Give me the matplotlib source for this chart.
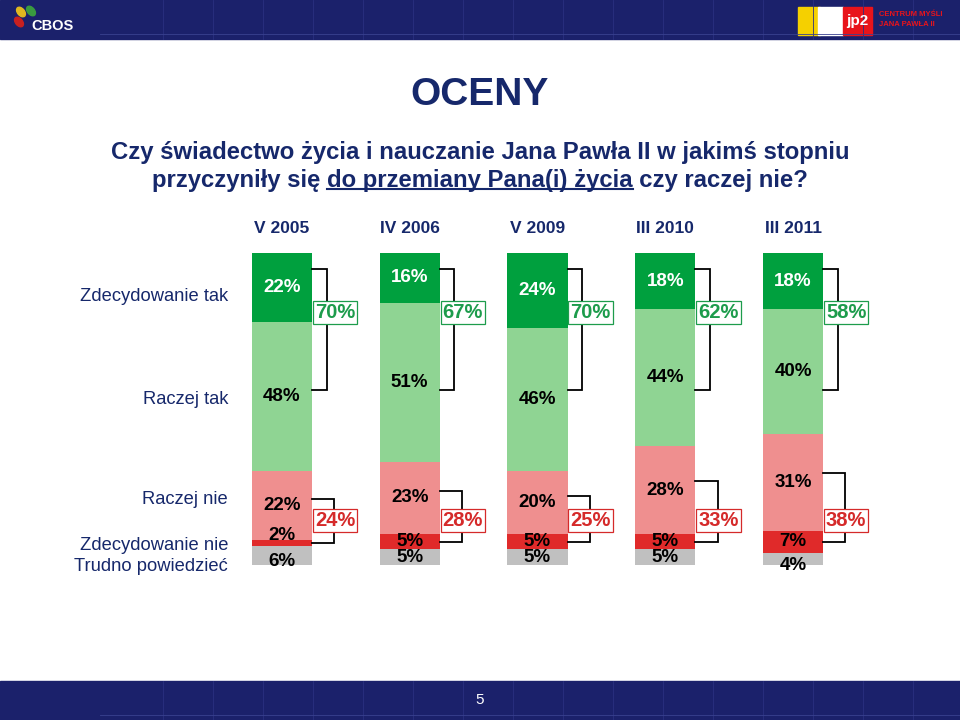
import matplotlib
matplotlib.use("Agg")
import matplotlib.pyplot as plt
from matplotlib.patches import Rectangle, Ellipse
from matplotlib.lines import Line2D

# ---------------- data ----------------
periods = ["V 2005", "IV 2006", "V 2009", "III 2010", "III 2011"]
zdecydowanie_tak = [22, 16, 24, 18, 18]
raczej_tak = [48, 51, 46, 44, 40]
raczej_nie = [22, 23, 20, 28, 31]
zdecydowanie_nie = [2, 5, 5, 5, 7]
trudno = [6, 5, 5, 5, 4]
suma_tak = [70, 67, 70, 62, 58]
suma_nie = [24, 28, 25, 33, 38]
row_labels = ["Zdecydowanie tak", "Raczej tak", "Raczej nie",
              "Zdecydowanie nie", "Trudno powiedzieć"]

# ---------------- style ----------------
plt.rcParams['font.family'] = ['Liberation Sans', 'DejaVu Sans']
NAVY = "#16286b"
BAND = "#1b216b"
C_DG = "#00a03e"
C_LG = "#8fd493"
C_PK = "#ef8f8f"
C_RD = "#e02a2a"
C_GR = "#c0c0c0"
C_GTXT = "#1d9c4c"
C_RTXT = "#d52a2a"

W, H = 960, 720
fig = plt.figure(figsize=(9.6, 7.2), dpi=100)
fig.patch.set_facecolor("white")

def fx(px):
    return px / W

def fy(py):
    return 1 - py / H

# header & footer bands
bg = fig.add_axes([0, 0, 1, 1], zorder=-5)
bg.set_xlim(0, W)
bg.set_ylim(H, 0)
bg.axis("off")
bg.add_patch(Rectangle((0, 0), W, 39, color=BAND))
bg.add_patch(Rectangle((0, 681), W, 39, color=BAND))
for xv in [163, 213, 263, 313, 363, 413, 463, 513, 563, 613, 663, 713, 763, 813, 863, 913]:
    bg.add_line(Line2D([xv, xv], [0, 39], color="#2a3080", lw=0.6))
    bg.add_line(Line2D([xv, xv], [681, 720], color="#2a3080", lw=0.6))
bg.add_line(Line2D([100, 960], [34, 34], color="#3a4290", lw=0.6))
bg.add_line(Line2D([100, 960], [715, 715], color="#3a4290", lw=0.6))
# CBOS logo
bg.add_patch(Ellipse((21, 12), 7, 11, angle=-40, color="#e0b820"))
bg.add_patch(Ellipse((31, 11), 7, 11, angle=-40, color="#3a9a40"))
bg.add_patch(Ellipse((19, 22), 7, 11, angle=-40, color="#c82020"))
bg.text(31, 26, "CBOS", color="white", fontsize=10.5, fontweight="bold",
        ha="left", va="center")
# jp2 logo
bg.add_patch(Rectangle((798, 7), 22, 28, color="#f5d000"))
bg.add_patch(Rectangle((818, 7), 25, 28, color="white"))
bg.add_patch(Rectangle((843, 7), 29, 28, color="#e8141b"))
bg.text(857, 21, "jp2", color="white", fontsize=11, fontweight="bold",
        ha="center", va="center")
bg.text(879, 15, "CENTRUM MYŚLI", color="#e8141b", fontsize=5.5,
        fontweight="bold", ha="left", va="center")
bg.text(879, 24, "JANA PAWŁA II", color="#e8141b", fontsize=5.5,
        fontweight="bold", ha="left", va="center")
bg.text(480, 700, "5", color="white", fontsize=11, ha="center", va="center")

# title
fig.text(0.5, fy(95), "OCENY", color=NAVY, fontsize=28, fontweight="bold",
         ha="center", va="center")
SUB_FS = 17.2
fig.text(0.5, fy(152), "Czy świadectwo życia i nauczanie Jana Pawła II w jakimś stopniu",
         color=NAVY, fontsize=SUB_FS, fontweight="bold", ha="center", va="center")
line2 = "przyczyniły się do przemiany Pana(i) życia czy raczej nie?"
t2 = fig.text(0.5, fy(180), line2, color=NAVY, fontsize=SUB_FS, fontweight="bold",
              ha="center", va="center")

renderer = fig.canvas.get_renderer()

def text_w(s):
    tt = fig.text(0, 0, s, fontsize=SUB_FS, fontweight="bold")
    w = tt.get_window_extent(renderer).width
    tt.remove()
    return w

ext = t2.get_window_extent(renderer)
left = ext.x0
u0 = left + text_w("przyczyniły się do") - text_w("do")
u1 = left + text_w("przyczyniły się do przemiany Pana(i) życia")
ybase = ext.y0 + 3.0
fig.add_artist(Line2D([u0 / W, u1 / W], [ybase / H, ybase / H],
                      color=NAVY, lw=1.5, transform=fig.transFigure))

# ---------------- chart ----------------
ax = fig.add_axes([fx(218), fy(565), fx(639), 312 / H])
ax.set_xlim(-0.5, 4.5)
ax.set_ylim(0, 100)
ax.axis("off")

x = list(range(len(periods)))
bw = 0.47
series = [trudno, zdecydowanie_nie, raczej_nie, raczej_tak, zdecydowanie_tak]
colors = [C_GR, C_RD, C_PK, C_LG, C_DG]
bottoms = [0] * len(x)
seg_bottoms = []
for vals, col in zip(series, colors):
    ax.bar(x, vals, width=bw, bottom=bottoms, color=col, linewidth=0)
    seg_bottoms.append(list(bottoms))
    bottoms = [b + v for b, v in zip(bottoms, vals)]

lab_kw = dict(fontsize=13.5, fontweight="bold", ha="center", va="center")
for i in x:
    b = seg_bottoms[4][i]
    ax.text(i, b + zdecydowanie_tak[i] / 2, f"{zdecydowanie_tak[i]}%",
            color="white", **lab_kw)
    b = seg_bottoms[3][i]
    ax.text(i, b + raczej_tak[i] / 2, f"{raczej_tak[i]}%", color="black", **lab_kw)
    b = seg_bottoms[2][i]
    ax.text(i, b + raczej_nie[i] / 2, f"{raczej_nie[i]}%", color="black", **lab_kw)
    b = seg_bottoms[1][i]
    red_off = 2.3 if zdecydowanie_nie[i] < 4 else 0
    ax.text(i, b + zdecydowanie_nie[i] / 2 + red_off, f"{zdecydowanie_nie[i]}%",
            color="black", **lab_kw)
    b = seg_bottoms[0][i]
    gray_off = -2.0 if (zdecydowanie_nie[i] < 4 or trudno[i] < 5) else 0
    ax.text(i, b + trudno[i] / 2 + gray_off, f"{trudno[i]}%", color="black", **lab_kw)

    # green bracket
    xr = i + bw / 2
    xv = i + 0.35
    ax.plot([xr, xv, xv, xr], [95, 95, 56, 56], color="black", lw=1.3,
            clip_on=False, solid_joinstyle="miter")
    ax.text(i + 0.415, 81, f"{suma_tak[i]}%", color=C_GTXT, fontsize=14.5,
            fontweight="bold", ha="center", va="center", clip_on=False,
            bbox=dict(boxstyle="square,pad=0.1", fc="white", ec=C_GTXT, lw=0.9))
    # red bracket
    red_top = seg_bottoms[2][i]
    ytop = red_top + 0.6 * raczej_nie[i]
    ybot = seg_bottoms[1][i] + zdecydowanie_nie[i] / 2
    xv2 = i + 0.41
    ax.plot([xr, xv2, xv2, xr], [ytop, ytop, ybot, ybot], color="black", lw=1.3,
            clip_on=False, solid_joinstyle="miter")
    ax.text(i + 0.415, 14.2, f"{suma_nie[i]}%", color=C_RTXT, fontsize=14.5,
            fontweight="bold", ha="center", va="center", clip_on=False,
            bbox=dict(boxstyle="square,pad=0.1", fc="white", ec=C_RTXT, lw=0.9))

    # column header
    ax.text(i, 108, periods[i], color=NAVY, fontsize=12.5, fontweight="bold",
            ha="center", va="center", clip_on=False)

row_y = [86, 53, 21, 6.4, -0.6]
for lab, yv in zip(row_labels, row_y):
    ax.text(-0.42, yv, lab, color=NAVY, fontsize=13.2, ha="right", va="center",
            clip_on=False)

fig.savefig("out.png", dpi=100)
